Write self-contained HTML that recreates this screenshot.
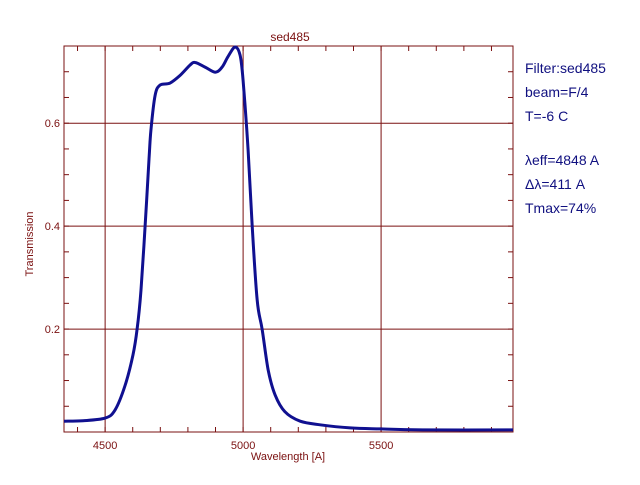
<!DOCTYPE html>
<html><head><meta charset="utf-8"><style>
body{margin:0;background:#fff}
svg text{font-family:"Liberation Sans",sans-serif}
</style></head><body>
<svg id="chart" width="640" height="480" xmlns="http://www.w3.org/2000/svg">
<text x="290" y="41" fill="#7a1010" font-size="12" text-anchor="middle">sed485</text>
<g id="grid"></g>
<g id="ticks"></g>
<rect x="64" y="46" width="449" height="386" fill="none" stroke="#7a1010" stroke-width="1"/>
<path id="curve" fill="none" stroke="#101090" stroke-width="3" stroke-linejoin="round"/>
<text x="288" y="460" fill="#7a1010" font-size="11" text-anchor="middle">Wavelength [A]</text>
<text x="33" y="244" fill="#7a1010" font-size="11" text-anchor="middle" transform="rotate(-90 33 244)">Transmission</text>
<g fill="#101080" font-size="14">
<text x="525" y="73">Filter:sed485</text>
<text x="525" y="97">beam=F/4</text>
<text x="525" y="121">T=-6 C</text>
<text x="525" y="165">λeff=4848 A</text>
<text x="525" y="189">Δλ=411 A</text>
<text x="525" y="213">Tmax=74%</text>
</g>
</svg>
<script>
const wavelengths=[4351,4420,4500,4536,4572,4601,4616,4630,4645,4659,4666,4681,4699,4735,4772,4808,4826,4862,4899,4924,4946,4971,4989,5000,5018,5033,5051,5069,5091,5116,5152,5207,5279,5388,5496,5650,5978];
const transmission=[0.021,0.022,0.027,0.043,0.09,0.15,0.2,0.276,0.4,0.53,0.586,0.654,0.674,0.678,0.693,0.713,0.718,0.709,0.699,0.709,0.73,0.748,0.732,0.683,0.548,0.4,0.256,0.2,0.12,0.072,0.039,0.021,0.014,0.008,0.006,0.004,0.004];
const xMajor=[4500,5000,5500];
const yMajor=[0.2,0.4,0.6];
const X0=4351,X1=5978,Y0=0,Y1=0.75;
const L=64,R=513,T=46,B=432;
const sx=v=>L+(v-X0)/(X1-X0)*(R-L);
const sy=v=>B-(v-Y0)/(Y1-Y0)*(B-T);
const NS="http://www.w3.org/2000/svg";
const grid=document.getElementById('grid'),ticks=document.getElementById('ticks');
function ln(p,x1,y1,x2,y2){const l=document.createElementNS(NS,'line');l.setAttribute('x1',x1);l.setAttribute('y1',y1);l.setAttribute('x2',x2);l.setAttribute('y2',y2);l.setAttribute('stroke','#7a1010');l.setAttribute('stroke-width','1');p.appendChild(l);return l;}
function tx(s,x,y,a){const t=document.createElementNS(NS,'text');t.textContent=s;t.setAttribute('x',x);t.setAttribute('y',y);t.setAttribute('fill','#7a1010');t.setAttribute('font-size','11');t.setAttribute('text-anchor',a);ticks.appendChild(t);return t;}
xMajor.forEach(v=>{const x=sx(v);const g=ln(grid,x,T,x,B);


const t=tx(String(v),x,449,'middle');

});
yMajor.forEach(v=>{const y=sy(v);const g=ln(grid,L,y,R,y);


const t=tx(v.toFixed(1),L-4,y+4,'end');

});
for(let v=4400;v<X1;v+=100){const x=sx(v);ln(ticks,x,B,x,B-5);ln(ticks,x,T,x,T+5);}
for(let v=0.05;v<Y1;v+=0.05){const y=sy(v);ln(ticks,L,y,L+5,y);ln(ticks,R,y,R-5,y);}
const pts=wavelengths.map((w,i)=>[sx(w),sy(transmission[i])]);
let d='M'+pts[0][0].toFixed(1)+' '+pts[0][1].toFixed(1);
for(let i=0;i<pts.length-1;i++){
  const p0=pts[Math.max(0,i-1)],p1=pts[i],p2=pts[i+1],p3=pts[Math.min(pts.length-1,i+2)];
  const c1x=p1[0]+(p2[0]-p0[0])/6,c1y=p1[1]+(p2[1]-p0[1])/6;
  const c2x=p2[0]-(p3[0]-p1[0])/6,c2y=p2[1]-(p3[1]-p1[1])/6;
  d+=' C'+c1x.toFixed(1)+' '+c1y.toFixed(1)+' '+c2x.toFixed(1)+' '+c2y.toFixed(1)+' '+p2[0].toFixed(1)+' '+p2[1].toFixed(1);
}
document.getElementById('curve').setAttribute('d',d);
</script>
</body></html>
